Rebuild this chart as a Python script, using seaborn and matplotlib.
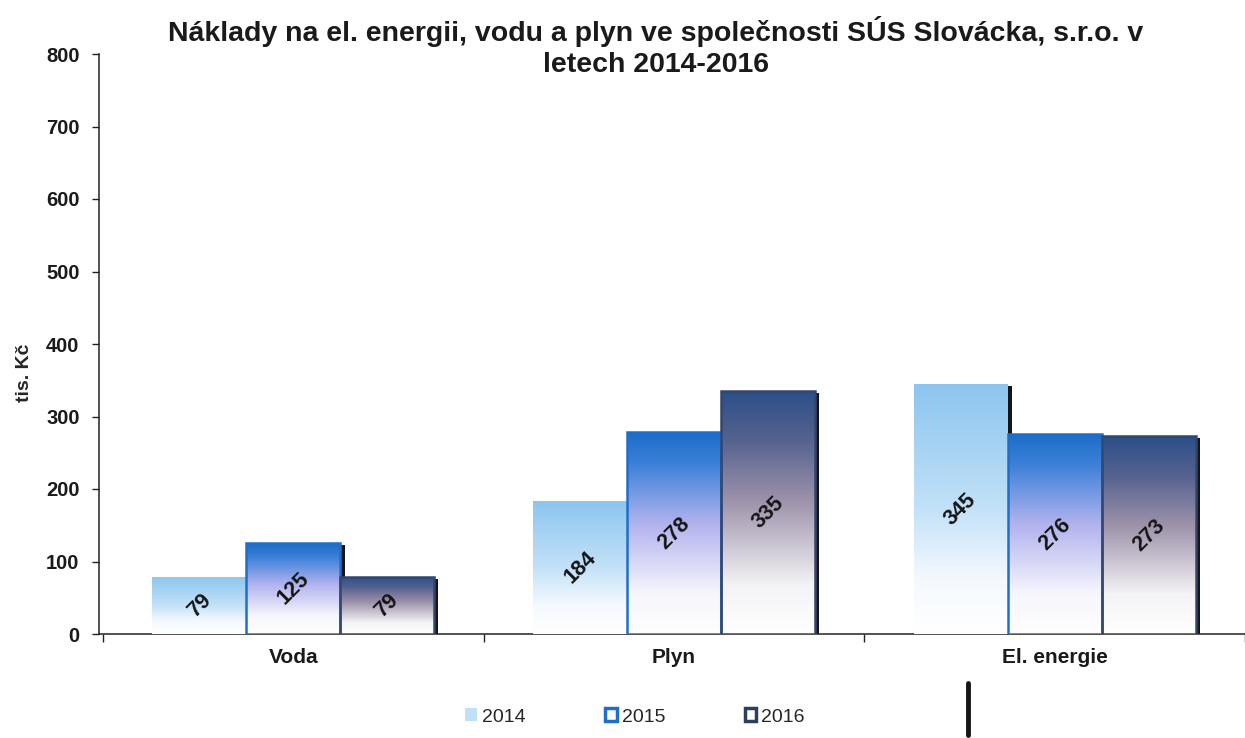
import numpy as np
import pandas as pd
import matplotlib
matplotlib.use('Agg')
import matplotlib.pyplot as plt
import matplotlib.patheffects as pe
from matplotlib.colors import LinearSegmentedColormap
from matplotlib.patches import Patch, Rectangle
from matplotlib.lines import Line2D
import seaborn as sns

# Data (tis. Kč)
kategorie = ['Voda', 'Plyn', 'El. energie']
roky = ['2014', '2015', '2016']
h2014 = [79, 184, 345]
h2015 = [125, 278, 276]
h2016 = [79, 335, 273]

df = pd.DataFrame({
    'kategorie': kategorie * 3,
    'rok': [r for r in roky for _ in kategorie],
    'hodnota': h2014 + h2015 + h2016,
})

# gradient per year (bottom -> top)
grad = {
    '2014': [(0.0, '#ffffff'), (0.22, '#f4f9fe'), (0.5, '#c2e1f8'), (1.0, '#8cc5ef')],
    '2015': [(0.0, '#ffffff'), (0.2, '#f6f6fd'), (0.55, '#b0b2ee'), (0.85, '#3a80d8'), (1.0, '#1c6cc8')],
    '2016': [(0.0, '#ffffff'), (0.2, '#f4f3f6'), (0.55, '#9d92aa'), (0.8, '#55628f'), (1.0, '#2c4f88')],
}
hrany = {'2014': 'none', '2015': '#1f6fc9', '2016': '#33466e'}
legcol = {'2014': '#bfe0f7', '2015': '#1f6fc9', '2016': '#2b3f63'}

sns.set_theme(style='white')
plt.rcParams['font.family'] = ['Liberation Sans', 'DejaVu Sans']

fig = plt.figure(figsize=(12.45, 7.38), dpi=100)
ax = fig.add_axes([99/1245, 1-634/738, 1146/1245, 580/738])

sns.barplot(data=df, x='kategorie', y='hodnota', hue='rok', hue_order=roky,
            palette=['#ffffff'] * 3, width=0.74, gap=0, ax=ax, legend=False,
            saturation=1, linewidth=0, zorder=2)

for rok, cont in zip(roky, ax.containers):
    cmap = LinearSegmentedColormap.from_list('g' + rok, grad[rok])
    for p in cont.patches:
        p.set_path_effects([pe.SimplePatchShadow(offset=(3.2, -1.5), shadow_rgbFace='#151515', alpha=1), pe.Normal()])
        x0, w, hh = p.get_x(), p.get_width(), p.get_height()
        img = ax.imshow(np.linspace(0, 1, 256).reshape(-1, 1), cmap=cmap, aspect='auto',
                        origin='lower', extent=(x0, x0 + w, 0, hh), zorder=3)
        img.set_clip_path(p)
        if hrany[rok] != 'none':
            ax.add_patch(Rectangle((x0, 0), w, hh, fill=False, edgecolor=hrany[rok], lw=1.8, zorder=4))
    ax.bar_label(cont, labels=[str(int(v)) for v in cont.datavalues], label_type='center',
                 rotation=45, fontsize=15.5, fontweight='bold', color='#151515', zorder=5)

ax.set_xlim(-0.51, 2.5)
ax.set_ylim(0, 800)
ax.set_yticks(range(0, 801, 100))
ax.set_xlabel('')
ax.set_ylabel('tis. Kč', fontsize=14, fontweight='bold')
ax.yaxis.set_label_coords(-0.058, 0.45)

for s in ['top', 'right']:
    ax.spines[s].set_visible(False)
for s in ['left', 'bottom']:
    ax.spines[s].set_color('#222222')
    ax.spines[s].set_linewidth(1.1)

ax.tick_params(axis='y', left=True, length=5, width=1, color='#222222', pad=9,
               labelsize=14.5, labelcolor='#1a1a1a')
ax.tick_params(axis='x', which='major', bottom=False, length=0, pad=10,
               labelsize=15, labelcolor='#1a1a1a')
ax.set_xticks([-0.5, 0.5, 1.5, 2.5], minor=True)
ax.tick_params(axis='x', which='minor', bottom=True, length=6, width=1, color='#222222')
for t in ax.get_yticklabels() + ax.get_xticklabels():
    t.set_fontweight('bold')
ax.grid(False)

fig.suptitle('Náklady na el. energii, vodu a plyn ve společnosti SÚS Slovácka, s.r.o. v\nletech 2014-2016',
             x=0.527, y=0.978, va='top', fontsize=20.5, fontweight='bold', color='#1a1a1a',
             linespacing=1.22)

handles = [Patch(facecolor=legcol['2014'], edgecolor='none'),
           Patch(facecolor='white', edgecolor=legcol['2015'], linewidth=2.5),
           Patch(facecolor='white', edgecolor=legcol['2016'], linewidth=2.5)]
fig.legend(handles, roky, loc='center', bbox_to_anchor=(0.51, 1-717/738), ncol=3, frameon=False,
           fontsize=14, handlelength=0.6, handleheight=0.6, handletextpad=0.25, columnspacing=4.1)

# dark edge right of the legend area
fig.add_artist(Line2D([968/1245, 968/1245], [1-735/738, 1-683/738], color='#151515', lw=3.5))

fig.savefig('out.png', dpi=100)
